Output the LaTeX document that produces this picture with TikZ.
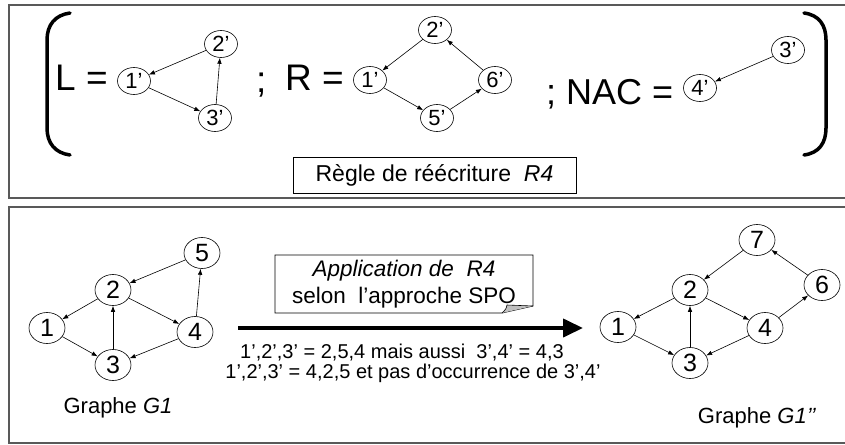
\documentclass[tikz,border=0pt]{standalone}
\usepackage{fontspec}
\setmainfont{Liberation Sans}
\usetikzlibrary{shapes.geometric,arrows.meta}

\begin{document}
\begin{tikzpicture}[x=1pt,y=-1pt,
  nd/.style={draw, ellipse, inner sep=0pt, minimum width=33pt, minimum height=27pt,
             text height=15.5pt, text depth=0pt,
             font=\fontsize{22}{22}\selectfont, line width=0.6pt},
  gn/.style={nd, minimum width=36pt, minimum height=31pt, text height=17.5pt,
             font=\fontsize{25}{25}\selectfont},
  edge/.style={-{Latex[length=6pt,width=4.5pt]}, line width=0.6pt},
  big/.style={font=\fontsize{37}{37}\selectfont, inner sep=0pt, anchor=base west},
  frame/.style={draw=black!65, line width=1.4pt},
  paren/.style={line width=3.5pt, line cap=round},
  txt/.style={font=\fontsize{20}{24}\selectfont, inner sep=0pt, align=center},
]
\useasboundingbox (0,0) rectangle (845,444);

% outer frames (their right side runs past the page)
\begin{scope}
  \clip (0,0) rectangle (845,444);
  \draw[frame] (9,5) rectangle (860,198);
  \draw[frame] (9,207) rectangle (860,443);
\end{scope}

% big brackets around the rule
\draw[paren] (70,13) .. controls (55,15) and (47,25) .. (47,40) -- (47,128)
             .. controls (47,143) and (55,153) .. (70,155);
\draw[paren] (804,13) .. controls (819,15) and (826,25) .. (826,40) -- (826,128)
             .. controls (826,143) and (819,153) .. (804,155);

% ---- rule R4 : L, R and NAC ----
\node[big] (Ltxt) at (55,90) {L =};
\node[big] (sc1) at (256,92) {;};
\node[big] (Rtxt) at (285,90) {R =};
\node[big, font=\fontsize{36}{36}\selectfont] (nac) at (546,104) {; NAC =};

\node[nd] (L1) at (134,81) {1’};
\node[nd] (L2) at (221,44) {2’};
\node[nd] (L3) at (215,118) {3’};
\draw[edge] (L2) -- (L1);
\draw[edge] (L1) -- (L3);
\draw[edge] (L3) -- (L2);

\node[nd] (R1) at (370,80) {1’};
\node[nd] (R2) at (435,30) {2’};
\node[nd] (R6) at (495,80) {6’};
\node[nd] (R5) at (437,118) {5’};
\draw[edge] (R2) -- (R1);
\draw[edge] (R1) -- (R5);
\draw[edge] (R5) -- (R6);
\draw[edge] (R6) -- (R2);

\node[nd] (N4) at (700,88) {4’};
\node[nd] (N3) at (788,50) {3’};
\draw[edge] (N3) -- (N4);

\node[draw, line width=0.8pt, minimum width=283pt, minimum height=36pt, inner sep=0pt,
      font=\fontsize{23}{23}\selectfont] (rule) at (434.5,175) {Règle de réécriture~~\textit{R4}};

% ---- graph G1 ----
\node[gn] (a1) at (47,328) {1};
\node[gn] (a2) at (113,290) {2};
\node[gn] (a3) at (113,365) {3};
\node[gn] (a4) at (195,332) {4};
\node[gn] (a5) at (202,253) {5};
\draw[edge] (a2) -- (a1);
\draw[edge] (a1) -- (a3);
\draw[edge] (a3) -- (a2);
\draw[edge] (a2) -- (a4);
\draw[edge] (a4) -- (a3);
\draw[edge] (a4) -- (a5);
\draw[edge] (a5) -- (a2);
\node[txt, font=\fontsize{22}{22}\selectfont] (g1) at (118,408) {Graphe \textit{G1}};

% ---- graph G1'' ----
\node[gn] (b1) at (618,327) {1};
\node[gn] (b2) at (690,290) {2};
\node[gn] (b3) at (690,363) {3};
\node[gn] (b4) at (765,328) {4};
\node[gn] (b6) at (822,285) {6};
\node[gn] (b7) at (757,240) {7};
\draw[edge] (b2) -- (b1);
\draw[edge] (b1) -- (b3);
\draw[edge] (b3) -- (b2);
\draw[edge] (b2) -- (b4);
\draw[edge] (b4) -- (b3);
\draw[edge] (b4) -- (b6);
\draw[edge] (b6) -- (b7);
\draw[edge] (b7) -- (b2);
\node[txt, font=\fontsize{22}{22}\selectfont] (g2) at (757,418) {Graphe \textit{G1’’}};

% ---- application arrow with its note ----
\coordinate (arrS) at (238,328);
\coordinate (arrE) at (583,328);
\draw[line width=4pt, -{Triangle[length=20pt,width=18pt]}] (arrS) -- (arrE);

\draw[line width=0.8pt, fill=white] (275,255) -- (533,255) -- (533,306) -- (502,313) -- (275,313) -- cycle;
\fill[black!25] (502,313) .. controls (506,309) .. (507,305) -- (533,306) -- cycle;
\draw[line width=0.6pt] (502,313) .. controls (506,309) .. (507,305) -- (533,306);
\node[txt, font=\fontsize{22.5}{27}\selectfont] (note) at (404,284) {\textit{Application de~~R4}\\selon~~l’approche SPO};

\node[txt] (m1) at (402,353) {1’,2’,3’ = 2,5,4 mais aussi~~3’,4’ = 4,3};
\node[txt] (m2) at (413,373) {1’,2’,3’ = 4,2,5 et pas d’occurrence de 3’,4’};
\end{tikzpicture}
\end{document}
